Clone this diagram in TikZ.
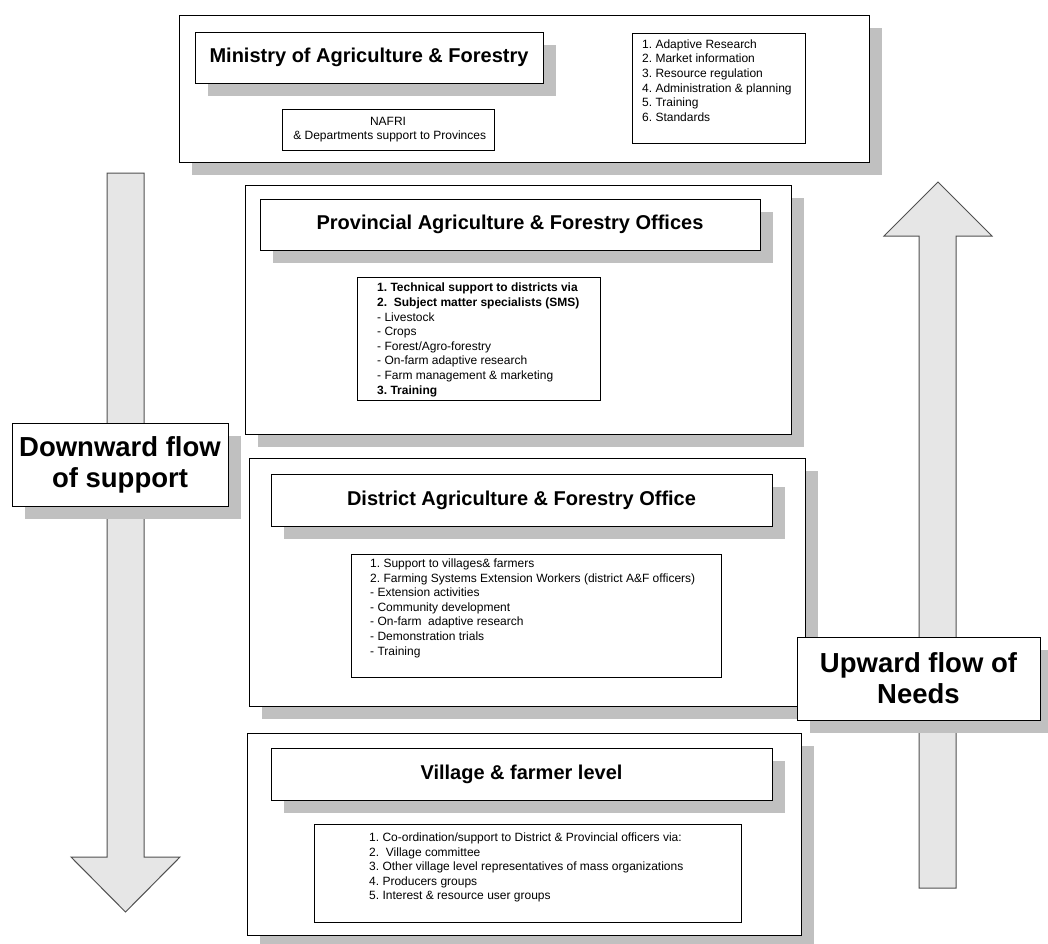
\documentclass[tikz,border=0pt]{standalone}
\usepackage{fontspec}
\setmainfont{Liberation Sans}
\usetikzlibrary{shadows,fit}
\definecolor{shgray}{HTML}{C0C0C0}
\definecolor{arrfill}{HTML}{E6E6E6}
\definecolor{arrline}{HTML}{505050}
\frenchspacing
\begin{document}
\begin{tikzpicture}[x=1pt,y=-1pt,
 shbox/.style={draw=black, fill=white, line width=0.8pt, inner sep=0pt,
   drop shadow={shadow xshift=13pt, shadow yshift=-13pt, fill=shgray, draw=none, opacity=1}},
 plainbox/.style={draw=black, fill=white, line width=0.8pt, inner sep=0pt},
 titletext/.style={font=\fontsize{20}{24}\selectfont\bfseries, inner sep=0pt},
 listtext/.style={font=\fontsize{12}{14.6}\selectfont, align=left, inner sep=0pt, anchor=north west},
 flowtext/.style={font=\fontsize{27.5}{31}\selectfont\bfseries, align=center, inner sep=0pt}]
\useasboundingbox (0,0) rectangle (1048,943);

% block arrows
\draw[fill=arrfill, draw=arrline, line width=1pt, line join=miter] (107,173) -- (144,173) -- (144,857) -- (180,857) -- (125.5,912) -- (71,857) -- (107,857) -- cycle;
\draw[fill=arrfill, draw=arrline, line width=1pt, line join=miter] (938,182) -- (992,236) -- (956,236) -- (956,888) -- (919,888) -- (919,236) -- (884,236) -- cycle;

% Ministry
\node[shbox, fit={(179,15) (869,162)}] (ministry) {};
\node[shbox, fit={(195,32) (543,83)}] (mtitle) {};
\node[titletext] (mtitletxt) at (mtitle.center) {Ministry of Agriculture \& Forestry};
\node[plainbox, fit={(282,109) (494,150)}] (nafri) {};
\node[font=\fontsize{12}{14}\selectfont, align=center, inner sep=0pt] (nafritxt) at (nafri.center) {NAFRI\\ \ \& Departments support to Provinces};
\node[plainbox, fit={(632,33) (805,143)}] (mlist) {};
\node[listtext] (mlisttxt) at (642,39.5) {1. Adaptive Research\\2. Market information\\3. Resource regulation\\4. Administration \& planning\\5. Training\\6. Standards};

% Provincial
\node[shbox, fit={(245,185) (791,434)}] (prov) {};
\node[shbox, fit={(260,199) (760,250)}] (ptitle) {};
\node[titletext] (ptitletxt) at (ptitle.center) {Provincial Agriculture \& Forestry Offices};
\node[plainbox, fit={(357,277) (600,400)}] (plist) {};
\node[listtext] (plisttxt) at (377,283) {\textbf{1. Technical support to districts via}\\\textbf{2.\ \ Subject matter specialists (SMS)}\\- Livestock\\- Crops\\- Forest/Agro-forestry\\- On-farm adaptive research\\- Farm management \& marketing\\\textbf{3. Training}};

% District
\node[shbox, fit={(249,458) (805,706)}] (dist) {};
\node[shbox, fit={(271,474) (772,526)}] (dtitle) {};
\node[titletext] (dtitletxt) at (dtitle.center) {District Agriculture \& Forestry Office};
\node[plainbox, fit={(351,554) (721,677)}] (dlist) {};
\node[listtext] (dlisttxt) at (370,558.5) {1. Support to villages\& farmers\\2. Farming Systems Extension Workers (district A\&F officers)\\- Extension activities\\- Community development\\- On-farm\ \ adaptive research\\- Demonstration trials\\- Training};

% Village
\node[shbox, fit={(247,733) (801,935)}] (vill) {};
\node[shbox, fit={(271,748) (772,800)}] (vtitle) {};
\node[titletext] (vtitletxt) at (vtitle.center) {Village \& farmer level};
\node[plainbox, fit={(314,824) (741,922)}] (vlist) {};
\node[listtext] (vlisttxt) at (369,832.5) {1. Co-ordination/support to District \& Provincial officers via:\\2.\ \ Village committee\\3. Other village level representatives of mass organizations\\4. Producers groups\\5. Interest \& resource user groups};

% flow labels
\node[shbox, fit={(12,423) (228,506)}] (down) {};
\node[flowtext] (downtxt) at (down.center) {Downward flow\\of support};
\node[shbox, fit={(797,637) (1040,720)}] (up) {};
\node[flowtext] (uptxt) at (up.center) {Upward flow of\\Needs};
\end{tikzpicture}
\end{document}
